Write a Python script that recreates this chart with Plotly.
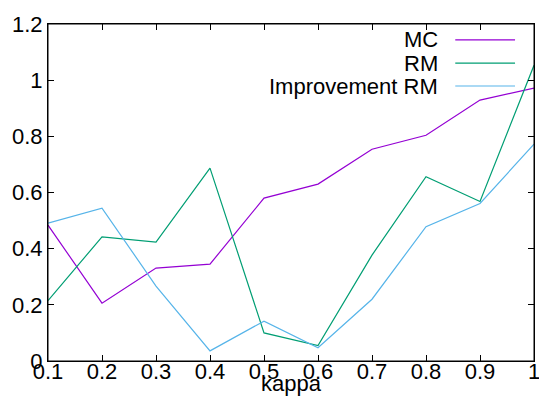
import plotly.graph_objects as go

kappa = [0.1, 0.2, 0.3, 0.4, 0.5, 0.6, 0.7, 0.8, 0.9, 1.0]
mc = [0.484, 0.206, 0.331, 0.345, 0.580, 0.630, 0.754, 0.804, 0.929, 0.972]
rm = [0.215, 0.442, 0.423, 0.687, 0.100, 0.055, 0.377, 0.656, 0.568, 1.053]
imp_rm = [0.491, 0.544, 0.267, 0.036, 0.142, 0.047, 0.220, 0.478, 0.561, 0.772]

x_ticks = [0.1, 0.2, 0.3, 0.4, 0.5, 0.6, 0.7, 0.8, 0.9, 1.0]
x_ticktext = ["0.1", "0.2", "0.3", "0.4", "0.5", "0.6", "0.7", "0.8", "0.9", "1"]
y_ticks = [0, 0.2, 0.4, 0.6, 0.8, 1.0, 1.2]
y_ticktext = ["0", "0.2", "0.4", "0.6", "0.8", "1", "1.2"]

names = ["MC", "RM", "Improvement RM"]
colors = ["#9400D3", "#009E73", "#56B4E9"]
series = [mc, rm, imp_rm]

fig = go.Figure()
for name, col, vals in zip(names, colors, series):
    fig.add_trace(go.Scatter(x=kappa, y=vals, mode="lines", name=name,
                             line=dict(color=col, width=1.2), showlegend=False))

# legend (gnuplot style: text right-aligned, sample line on the right)
leg_y = [0.953, 0.884, 0.816]
for name, col, yy in zip(names, colors, leg_y):
    fig.add_annotation(x=0.807, y=yy, xref="paper", yref="paper", text=name,
                       showarrow=False, xanchor="right", yanchor="middle",
                       font=dict(size=22, color="black"))
    fig.add_shape(type="line", xref="paper", yref="paper", x0=0.838, x1=0.961,
                  y0=yy, y1=yy, line=dict(color=col, width=1.2))

# plot frame
fig.add_shape(type="rect", xref="paper", yref="paper", x0=0, x1=1, y0=0, y1=1,
              line=dict(color="black", width=1), layer="above")

axis_common = dict(showgrid=False, zeroline=False, showline=True, linecolor="black",
                   linewidth=1, ticks="inside", ticklen=6,
                   tickcolor="black", tickfont=dict(size=22, color="black"),
                   ticklabeloverflow="allow")

fig.update_layout(
    xaxis=dict(range=[0.1, 1.0], tickmode="array", tickvals=x_ticks, ticktext=x_ticktext,
               automargin=False, ticklabelstandoff=-9, mirror="allticks",
               title=dict(text="kappa", standoff=4, font=dict(size=22, color="black")),
               **axis_common),
    yaxis=dict(range=[0, 1.2], tickmode="array", tickvals=y_ticks, ticktext=y_ticktext,
               automargin=False, mirror="allticks", **axis_common),
)

fig.update_layout(width=539, height=396, margin=dict(l=48, r=5, t=24, b=35),
                  plot_bgcolor="white", paper_bgcolor="white",
                  font=dict(family="Liberation Sans, Arial, sans-serif", size=22, color="black"))

fig.write_html("out.html", config={"displayModeBar": False},
               post_script="document.body.style.margin='0';document.body.style.overflow='hidden';")
